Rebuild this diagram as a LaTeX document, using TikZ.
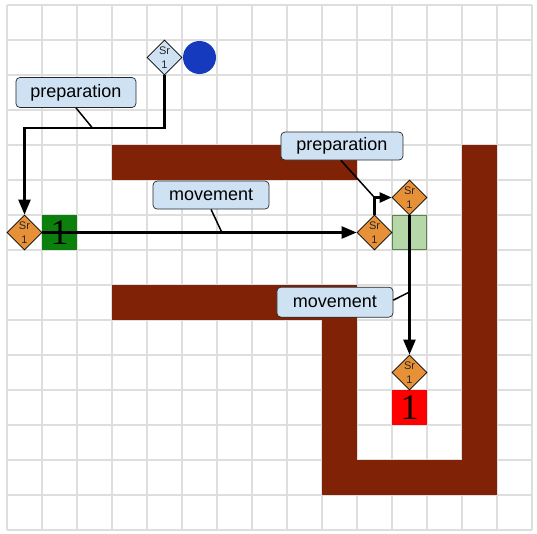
\documentclass[tikz,border=0pt]{standalone}
\usepackage{fontspec}
\setmainfont{Liberation Serif}
\setsansfont{Liberation Sans}
\usepackage{xcolor}
\usetikzlibrary{arrows.meta,shapes.geometric}
\definecolor{wallred}{RGB}{128,34,6}
\definecolor{robotorange}{RGB}{230,145,56}
\definecolor{labelblue}{RGB}{207,226,243}
\definecolor{gridgray}{RGB}{222,222,222}
\definecolor{goalgreen}{RGB}{182,215,168}
\definecolor{goaledge}{RGB}{95,130,85}
\definecolor{startgreen}{RGB}{12,128,12}
\definecolor{ballblue}{RGB}{22,58,190}

\begin{document}
\begin{tikzpicture}[
  x=35pt, y=-35pt,
  gridline/.style={gridgray, line width=2pt},
  robot/.style={diamond, draw=black, fill=robotorange, minimum width=35pt, minimum height=35pt, inner sep=0pt, align=center, text=black!85, font=\sffamily\fontsize{11}{14}\selectfont, line width=0.7pt},
  cellbox/.style={rectangle, minimum size=35pt, inner sep=0pt, font=\rmfamily\fontsize{36}{36}\selectfont},
  tag/.style={draw=black!85, fill=labelblue, rounded corners=4pt, font=\sffamily\fontsize{18}{18}\selectfont, inner sep=0pt, line width=0.7pt},
  flow/.style={-{Triangle[length=15pt,width=12pt]}, line width=2.4pt},
  pointer/.style={line width=1.5pt}
]
  \useasboundingbox (-0.2,-0.143) rectangle (15.143,15.114);
  % grid
  \foreach \k in {0,...,15} {
    \draw[gridline] (\k,0) -- (\k,15);
    \draw[gridline] (0,\k) -- (15,\k);
  }
  % walls
  \fill[wallred] (3,4) rectangle (10,5);
  \fill[wallred] (3,8) rectangle (10,9);
  \fill[wallred] (9,8) rectangle (10,14);
  \fill[wallred] (9,13) rectangle (14,14);
  \fill[wallred] (13,4) rectangle (14,14);

  % cells and ball
  \node[cellbox, fill=startgreen] (startcell) at (1.5,6.5) {1};
  \node[cellbox, draw=goaledge, fill=goalgreen, minimum size=34pt, line width=0.7pt] (waycell) at (11.5,6.5) {};
  \node[cellbox, fill=red] (goalcell) at (11.5,11.5) {1};
  \node[circle, fill=ballblue, minimum size=33pt, inner sep=0pt] (ball) at (5.5,1.5) {};

  % robots
  \node[robot, fill=labelblue] (srinit) at (4.5,1.5) {Sr\\1};
  \node[robot] (srstart) at (0.5,6.5) {Sr\\1};
  \node[robot] (srmid) at (10.5,6.5) {Sr\\1};
  \node[robot] (srup) at (11.5,5.5) {Sr\\1};
  \node[robot] (srgoal) at (11.5,10.5) {Sr\\1};

  % connectors
  \draw[flow] (srinit.south) -- ++(0,1.5) -| (srstart.north);
  \draw[flow] (srstart.east) -- (srmid.west);
  \draw[flow, -{Triangle[length=12pt,width=10pt]}] (srmid.north) |- (srup.west);
  \draw[flow] (srup.south) -- (srgoal.north);

  \coordinate (prepAtip) at (2.43,3.5);
  \coordinate (moveAtip) at (6.14,6.5);
  \coordinate (prepBtip) at (10.5,5.5);
  \coordinate (moveBtip) at (11.5,8.2);

  % labels
  \node[tag, minimum width=120pt, minimum height=30pt] (prepA) at (1.97,2.5) {preparation};
  \node[tag, minimum width=116pt, minimum height=28pt] (moveA) at (5.83,5.43) {movement};
  \node[tag, minimum width=122pt, minimum height=28pt] (prepB) at (9.57,4.03) {preparation};
  \node[tag, minimum width=116pt, minimum height=30pt] (moveB) at (9.37,8.49) {movement};

  \draw[pointer] (prepA.south) -- (prepAtip);
  \draw[pointer] (moveA.south) -- (moveAtip);
  \draw[pointer] ([xshift=-1pt]prepB.south) -- (prepBtip);
  \draw[pointer] ([yshift=2pt]moveB.east) -- (moveBtip);
\end{tikzpicture}
\end{document}
